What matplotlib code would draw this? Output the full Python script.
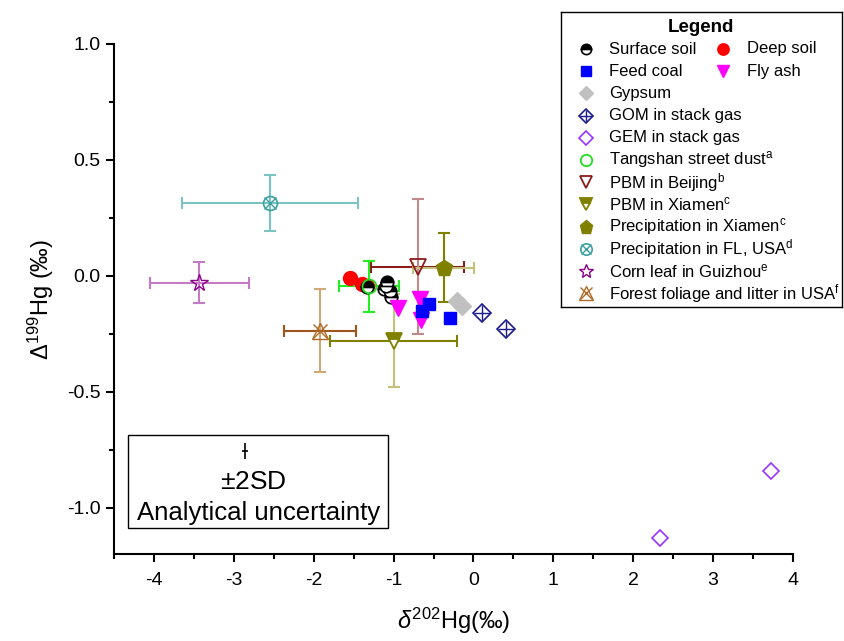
import matplotlib
matplotlib.use("Agg")
import matplotlib.pyplot as plt
from matplotlib.patches import Rectangle

plt.rcParams['font.family'] = ['Liberation Sans', 'DejaVu Sans']
plt.rcParams['mathtext.fontset'] = 'custom'
plt.rcParams['mathtext.rm'] = 'Liberation Sans'
plt.rcParams['mathtext.it'] = 'Liberation Sans:italic'

# --- data ---
surface_x = [-1.33, -1.12, -1.08, -1.05, -1.03, -1.10]
surface_y = [-0.05, -0.055, -0.025, -0.065, -0.09, -0.045]
deep_x = [-1.55, -1.40, -1.33]
deep_y = [-0.01, -0.035, -0.045]
feed_x = [-0.56, -0.64, -0.29]
feed_y = [-0.12, -0.15, -0.18]
fly_x = [-0.94, -0.67, -0.66]
fly_y = [-0.14, -0.10, -0.19]
gyp_x = [-0.20, -0.14]
gyp_y = [-0.11, -0.13]
gom_x = [0.11, 0.41]
gom_y = [-0.16, -0.23]
gem_x = [2.33, 3.72]
gem_y = [-1.13, -0.84]

# literature values: (x, y, xerr, yerr)
tangshan = (-1.31, -0.045, 0.375, 0.11)
pbm_bj = (-0.70, 0.04, 0.58, 0.29)
pbm_xm = (-1.00, -0.28, 0.79, 0.20)
prec_xm = (-0.375, 0.035, 0.38, 0.15)
prec_fl = (-2.55, 0.315, 1.10, 0.12)
corn = (-3.43, -0.03, 0.62, 0.088)
forest = (-1.92, -0.237, 0.45, 0.18)

# analytical uncertainty symbol
unc_x, unc_y, unc_xerr, unc_yerr = -2.86, -0.755, 0.04, 0.035

styles = {
    'surface': dict(marker='o', ms=9, mfc='black', mfcalt='white', fillstyle='top', mec='black', mew=1.2),
    'deep': dict(marker='o', ms=10, mfc='#ff0000', mec='#ff0000'),
    'feed': dict(marker='s', ms=8.5, mfc='#0000ff', mec='#0000ff'),
    'fly': dict(marker='v', ms=11, mfc='#ff00ff', mec='#ff00ff'),
    'gyp': dict(marker='D', ms=9, mfc='#c0c0c0', mec='#c0c0c0'),
    'gom': dict(marker='D', ms=9, mfc='none', mec='#1c1c8c', mew=1.2),
    'gem': dict(marker='D', ms=8.5, mfc='none', mec='#9933ff', mew=1.2),
    'tangshan': dict(marker='o', ms=10, mfc='none', mec='#22dd22', mew=1.3),
    'pbm_bj': dict(marker='v', ms=11, mfc='none', mec='#8b1a1a', mew=1.3),
    'pbm_xm': dict(marker='v', ms=11, mfc='#808000', mfcalt='white', fillstyle='top', mec='#808000', mew=1.3),
    'prec_xm': dict(marker='p', ms=12, mfc='#808000', mec='#808000'),
    'prec_fl': dict(marker='o', ms=10, mfc='none', mec='#3aa0a0', mew=1.2),
    'corn': dict(marker='*', ms=13, mfc='none', mec='#8b008b', mew=1.0),
    'forest': dict(marker='^', ms=12, mfc='none', mec='#b06a28', mew=1.0),
}
overlays = {
    'gom': dict(marker='+', ms=11, mec='#1c1c8c', mew=1.0, ls='none'),
    'prec_fl': dict(marker='x', ms=8, mec='#3aa0a0', mew=1.0, ls='none'),
    'forest': dict(marker='x', ms=10, mec='#b06a28', mew=1.0, ls='none'),
}
# error bar colours: (x colour, y colour)
err_colors = {
    'tangshan': ('#22ee22', '#22ee22'),
    'pbm_bj': ('#8b1a1a', '#c08a8a'),
    'pbm_xm': ('#808000', '#c2c27a'),
    'prec_xm': ('#c2c27a', '#808000'),
    'prec_fl': ('#7cc4c4', '#7cc4c4'),
    'corn': ('#c57ac5', '#c57ac5'),
    'forest': ('#a0561a', '#d0a878'),
}


def draw(ax, key, x, y, z=3):
    ax.plot(x, y, ls='none', zorder=z, **styles[key])
    if key in overlays:
        ax.plot(x, y, zorder=z + 0.1, **overlays[key])


def draw_err(ax, key, pt, z=3):
    x, y, xe, ye = pt
    cx, cy = err_colors[key]
    ax.errorbar(x, y, xerr=xe, fmt='none', ecolor=cx, elinewidth=1.5, capsize=4, capthick=1.5, zorder=2)
    ax.errorbar(x, y, yerr=ye, fmt='none', ecolor=cy, elinewidth=1.5, capsize=4, capthick=1.5, zorder=2)
    draw(ax, key, [x], [y], z)


fig = plt.figure(figsize=(8.44, 6.41), dpi=100)
ax = fig.add_axes([114 / 844, 1 - 554 / 641, (793 - 114) / 844, (554 - 44) / 641])

draw_err(ax, 'prec_fl', prec_fl)
draw_err(ax, 'corn', corn)
draw_err(ax, 'forest', forest)
draw_err(ax, 'pbm_xm', pbm_xm)
draw_err(ax, 'pbm_bj', pbm_bj)
draw_err(ax, 'prec_xm', prec_xm)
draw(ax, 'deep', deep_x, deep_y)
draw(ax, 'surface', surface_x, surface_y)
draw_err(ax, 'tangshan', tangshan, z=4)
draw(ax, 'fly', fly_x, fly_y)
draw(ax, 'feed', feed_x, feed_y)
draw(ax, 'gyp', gyp_x, gyp_y)
draw(ax, 'gom', gom_x, gom_y)
draw(ax, 'gem', gem_x, gem_y)

ax.set_xlim(-4.5, 4)
ax.set_ylim(-1.2, 1.0)
ax.set_xticks(range(-4, 5))
ax.set_xticks([v / 2 for v in range(-9, 8, 2)], minor=True)
ax.set_yticks([-1.0, -0.5, 0.0, 0.5, 1.0])
ax.set_yticks([-0.75, -0.25, 0.25, 0.75], minor=True)
ax.set_yticklabels(['-1.0', '-0.5', '0.0', '0.5', '1.0'])
ax.set_xticklabels([str(v) for v in range(-4, 5)])
ax.spines['top'].set_visible(False)
ax.spines['right'].set_visible(False)
for s in ['left', 'bottom']:
    ax.spines[s].set_linewidth(1.5)
ax.tick_params(which='major', direction='out', length=6, width=1.5, labelsize=14)
ax.tick_params(which='minor', direction='out', length=3.5, width=1.5)
ax.tick_params(axis='x', pad=7)
ax.set_xlabel(r'$\delta^{202}$Hg(‰)', fontsize=17, labelpad=12)
ax.set_ylabel(r'$\Delta^{199}$Hg (‰)', fontsize=17, labelpad=8)

# analytical uncertainty box
ax.errorbar(unc_x, unc_y, xerr=unc_xerr, yerr=unc_yerr, fmt='none', ecolor='black', elinewidth=1.2, capsize=0)
box = Rectangle((128 / 844, 1 - 528 / 641), (388 - 128) / 844, (528 - 435) / 641,
                transform=fig.transFigure, fill=False, ec='black', lw=1.0)
fig.patches.append(box)
fig.text(253 / 844, 1 - 482 / 641, '$\\pm$2SD', ha='center', va='center', fontsize=19)
fig.text(259 / 844, 1 - 513 / 641, 'Analytical uncertainty', ha='center', va='center', fontsize=18.5)

# legend (drawn by hand, first two rows have two columns)
lax = fig.add_axes([561 / 844, 1 - 307 / 641, (842 - 561) / 844, (307 - 12) / 641])
lax.set_xlim(0, 281)
lax.set_ylim(295, 0)
lax.set_xticks([])
lax.set_yticks([])
for s in lax.spines.values():
    s.set_linewidth(1.0)
lax.text(140, 16, 'Legend', ha='center', va='center', fontsize=13.5, fontweight='bold')

legend_rows = [
    [('surface', 'Surface soil'), ('deep', 'Deep soil')],
    [('feed', 'Feed coal'), ('fly', 'Fly ash')],
    [('gyp', 'Gypsum')],
    [('gom', 'GOM in stack gas')],
    [('gem', 'GEM in stack gas')],
    [('tangshan', 'Tangshan street dust$^{\\mathrm{a}}$')],
    [('pbm_bj', 'PBM in Beijing$^{\\mathrm{b}}$')],
    [('pbm_xm', 'PBM in Xiamen$^{\\mathrm{c}}$')],
    [('prec_xm', 'Precipitation in Xiamen$^{\\mathrm{c}}$')],
    [('prec_fl', 'Precipitation in FL, USA$^{\\mathrm{d}}$')],
    [('corn', 'Corn leaf in Guizhou$^{\\mathrm{e}}$')],
    [('forest', 'Forest foliage and litter in USA$^{\\mathrm{f}}$')],
]
col_x = [(25, 48), (162, 186)]
for i, row in enumerate(legend_rows):
    yy = 37 + 22.2 * i
    for j, (key, label) in enumerate(row):
        mx, tx = col_x[j]
        st = dict(styles[key])
        st['ms'] = st['ms'] * 0.82
        lax.plot([mx], [yy], ls='none', clip_on=False, **st)
        if key in overlays:
            ov = dict(overlays[key])
            ov['ms'] = ov['ms'] * 0.82
            lax.plot([mx], [yy], clip_on=False, **ov)
        lax.text(tx, yy, label, ha='left', va='center', fontsize=12)

fig.savefig('out.png', dpi=100)
